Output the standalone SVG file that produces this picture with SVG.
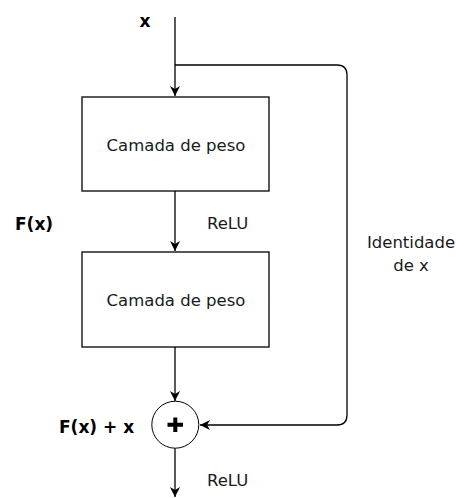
<svg xmlns="http://www.w3.org/2000/svg" width="456" height="498" viewBox="0 0 456 498">
<defs>
<marker id="arr" markerWidth="12" markerHeight="12" refX="10" refY="6" orient="auto" markerUnits="userSpaceOnUse">
<path d="M0,1 L10,6 L0,11 L3,6 Z" fill="#000"/>
</marker>
<style>
.box{fill:#fff;stroke:#000;stroke-width:1.3}
.ln{fill:none;stroke:#000;stroke-width:1.3}
.t{font-family:"DejaVu Sans",Verdana,sans-serif;font-size:16.5px;fill:#1a1a1a}
.b{font-family:"DejaVu Sans",Verdana,sans-serif;font-size:17px;font-weight:bold;fill:#000}
</style>
</defs>
<rect width="456" height="498" fill="#fff"/>
<g id="connectors">
<line class="ln" x1="175" y1="17" x2="175" y2="96" marker-end="url(#arr)"/>
<path class="ln" d="M175,65 H337 Q347,65 347,75 V415 Q347,425 337,425 H200" marker-end="url(#arr)"/>
<line class="ln" x1="175" y1="191" x2="175" y2="251" marker-end="url(#arr)"/>
<line class="ln" x1="175" y1="347" x2="175" y2="401" marker-end="url(#arr)"/>
<line class="ln" x1="175" y1="448" x2="175" y2="497" marker-end="url(#arr)"/>
</g>
<g id="input-x"><text class="b" x="145" y="27" text-anchor="middle">x</text></g>
<g id="layer1">
<rect class="box" x="82" y="97" width="187" height="94"/>
<text class="t" x="176" y="151" text-anchor="middle">Camada de peso</text>
</g>
<g id="relu1"><text class="t" x="207" y="229">ReLU</text></g>
<g id="fx"><text class="b" x="15" y="230">F(x)</text></g>
<g id="layer2">
<rect class="box" x="82" y="252" width="187" height="95"/>
<text class="t" x="176" y="306" text-anchor="middle">Camada de peso</text>
</g>
<g id="identity"><text class="t" x="411" y="248" text-anchor="middle">Identidade</text><text class="t" x="411" y="271" text-anchor="middle">de x</text></g>
<g id="sum">
<circle cx="175.3" cy="424.7" r="23.5" fill="#fff" stroke="#000" stroke-width="1"/>
<path d="M175.3,417.5 V432 M167.5,424.7 H183" stroke="#000" stroke-width="4"/>
</g>
<g id="fxx"><text class="b" x="59" y="433">F(x) + x</text></g>
<g id="relu2"><text class="t" x="207" y="486">ReLU</text></g>
</svg>
